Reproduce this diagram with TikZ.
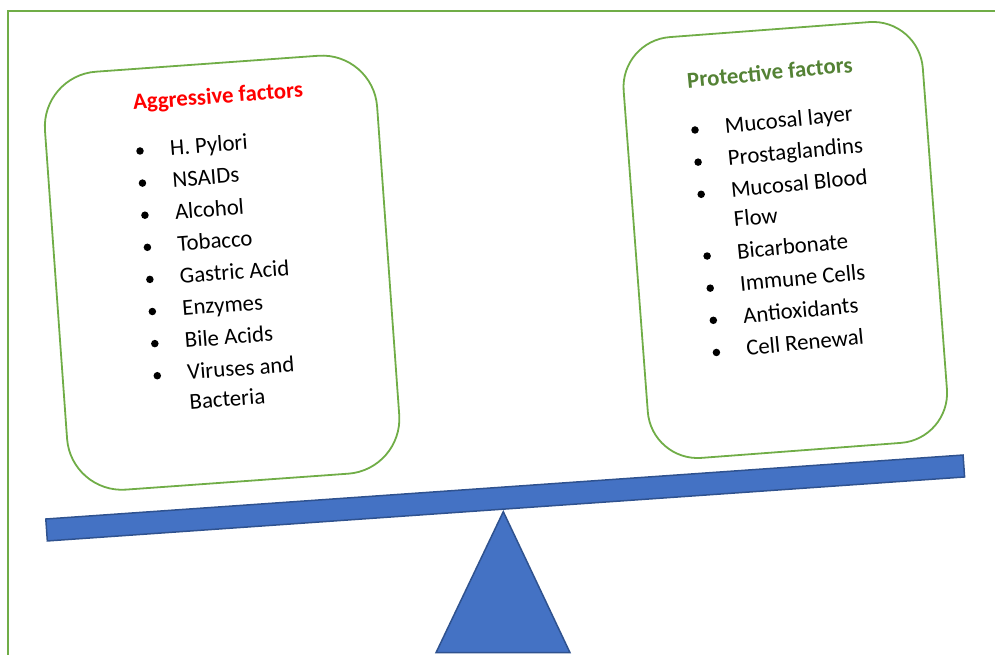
\documentclass[tikz,border=0pt]{standalone}
\usepackage{fontspec}
\setmainfont{Carlito}
\definecolor{boxgreen}{HTML}{70AD47}
\definecolor{protgreen}{HTML}{548235}
\definecolor{beamblue}{HTML}{4472C4}
\definecolor{beamedge}{HTML}{2F528F}
\begin{document}
\begin{tikzpicture}[x=1pt,y=1pt,
  frameline/.style={draw=boxgreen, line width=2pt},
  factorbox/.style={draw=boxgreen, line width=1.8pt, rounded corners=#1, inner sep=0pt, outer sep=0pt},
  boxtitle/.style={font=\fontsize{22.8}{27}\selectfont\bfseries, anchor=base, inner sep=0pt},
  itemtext/.style={font=\fontsize{22.8}{29.6}\selectfont, anchor=base west, inner sep=0pt, text=black, align=left},
  bulletdot/.style={circle, fill=black, minimum size=7.5pt, inner sep=0pt},
  seesaw/.style={fill=beamblue, draw=beamedge, line width=1.5pt, line join=miter}
]
\useasboundingbox (0,0) rectangle (995,655);

% outer frame
\coordinate (fbl) at (8,0);
\coordinate (ftl) at (8,644);
\coordinate (ftr) at (995,644);
\draw[frameline] (fbl) -- (ftl) -- (ftr);

% boxes
\node[factorbox=55pt, minimum width=333pt, minimum height=419pt, rotate=4.1] (aggbox) at (222.1,382.3) {};
\node[factorbox=50pt, minimum width=300pt, minimum height=422pt, rotate=4.3] (protbox) at (785.3,415) {};

% aggressive factors
\begin{scope}[shift={(140,504)}, rotate=4.4]
  \node[boxtitle, text=red, rotate=4.4] (aggtitle) at (82,41.4) {Aggressive factors};
  \node[bulletdot] (ab0) at (0,0) {};
  \node[itemtext, rotate=4.4] (at0) at (30,-6.5) {H. Pylori};
  \node[bulletdot] (ab1) at (0,-32.2) {};
  \node[itemtext, rotate=4.4] (at1) at (30,-38.7) {NSAIDs};
  \node[bulletdot] (ab2) at (0,-64.4) {};
  \node[itemtext, rotate=4.4] (at2) at (30,-70.9) {Alcohol};
  \node[bulletdot] (ab3) at (0,-96.6) {};
  \node[itemtext, rotate=4.4] (at3) at (30,-103.1) {Tobacco};
  \node[bulletdot] (ab4) at (0,-128.8) {};
  \node[itemtext, rotate=4.4] (at4) at (30,-135.3) {Gastric Acid};
  \node[bulletdot] (ab5) at (0,-161.0) {};
  \node[itemtext, rotate=4.4] (at5) at (30,-167.5) {Enzymes};
  \node[bulletdot] (ab6) at (0,-193.2) {};
  \node[itemtext, rotate=4.4] (at6) at (30,-199.7) {Bile Acids};
  \node[bulletdot] (ab7) at (0,-225.4) {};
  \node[itemtext, rotate=4.4] (at7) at (30,-261.5) {Viruses and\\Bacteria};
\end{scope}

% protective factors
\begin{scope}[shift={(695,525)}, rotate=5.5]
  \node[boxtitle, text=protgreen, rotate=5.5] (prottitle) at (80,42.4) {Protective factors};
  \node[bulletdot] (pb0) at (0,0) {};
  \node[itemtext, rotate=5.5] (pt0) at (30,-6) {Mucosal layer};
  \node[bulletdot] (pb1) at (0,-32.3) {};
  \node[itemtext, rotate=5.5] (pt1) at (30,-38.3) {Prostaglandins};
  \node[bulletdot] (pb2) at (0,-64.6) {};
  \node[itemtext, rotate=5.5] (pt2) at (30,-100.2) {Mucosal Blood\\Flow};
  \node[bulletdot] (pb3) at (0,-126.6) {};
  \node[itemtext, rotate=5.5] (pt3) at (30,-132.6) {Bicarbonate};
  \node[bulletdot] (pb4) at (0,-158.9) {};
  \node[itemtext, rotate=5.5] (pt4) at (30,-164.9) {Immune Cells};
  \node[bulletdot] (pb5) at (0,-191.2) {};
  \node[itemtext, rotate=5.5] (pt5) at (30,-197.2) {Antioxidants};
  \node[bulletdot] (pb6) at (0,-223.5) {};
  \node[itemtext, rotate=5.5] (pt6) at (30,-229.5) {Cell Renewal};
\end{scope}

% fulcrum and beam
\coordinate (apex) at (503.3,143.3);
\coordinate (basel) at (436,2.3);
\coordinate (baser) at (570,2.3);
\draw[seesaw] (apex) -- (basel) -- (baser) -- cycle;
\node[seesaw, draw, minimum width=919.5pt, minimum height=22pt, inner sep=0pt, rotate=3.99] (beam) at (505.2,157) {};
\end{tikzpicture}
\end{document}
